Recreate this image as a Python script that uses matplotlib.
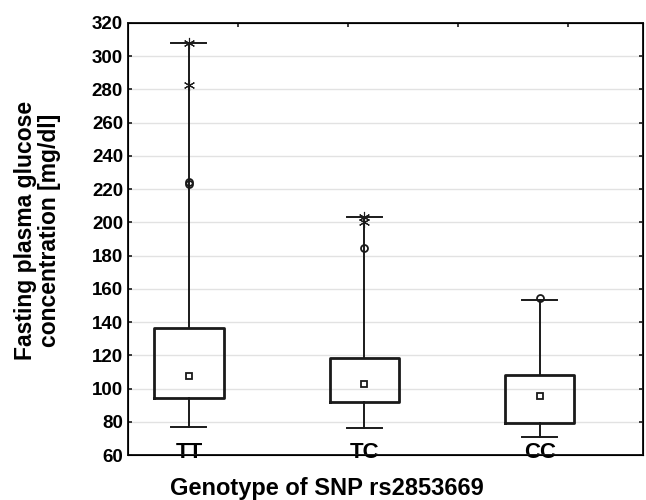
import numpy as np
import matplotlib
matplotlib.use('Agg')
import matplotlib.pyplot as plt

plt.rcParams['font.family'] = ['Liberation Sans', 'DejaVu Sans']
plt.rcParams['font.weight'] = 'bold'

# data (mg/dl)
genotypes = ['TT', 'TC', 'CC']
q1 = [94.5, 92.0, 79.3]
q3 = [136.5, 118.4, 108.4]
median = [107.5, 102.7, 95.5]
whisk_lo = [77.0, 76.0, 71.0]
whisk_hi = [308.0, 203.4, 153.5]
# outliers (circles) and extremes (asterisks)
outlier_grp = [0, 0, 1, 2]
outlier_val = [223.3, 224.2, 184.8, 154.5]
extreme_grp = [0, 0, 1, 1]
extreme_val = [308.0, 282.5, 203.5, 200.5]

fig = plt.figure(figsize=(6.46, 5.0), dpi=100)
ax = fig.add_axes([0.198, 0.09, 0.797, 0.864])

pos = np.arange(1, len(genotypes) + 1)
stats = []
for i, g in enumerate(genotypes):
    stats.append(dict(label=g, med=median[i], mean=median[i], q1=q1[i], q3=q3[i],
                      whislo=whisk_lo[i], whishi=whisk_hi[i], fliers=[]))

ax.bxp(stats, positions=pos, widths=0.395, showmeans=True, showfliers=False,
       boxprops=dict(color='#1a1a1a', linewidth=2.0),
       whiskerprops=dict(color='#1a1a1a', linewidth=1.4),
       capprops=dict(color='#1a1a1a', linewidth=1.4),
       medianprops=dict(linewidth=0),
       meanprops=dict(marker='s', markersize=4.5, markerfacecolor='white',
                      markeredgecolor='#1a1a1a', markeredgewidth=1.3),
       capwidths=0.2)

ax.plot(pos[outlier_grp], outlier_val, 'o', ms=5, mfc='none', mec='#1a1a1a', mew=1.3)
ax.plot(pos[extreme_grp], extreme_val, ls='none', marker=(6, 2, 0), ms=8,
        mec='#1a1a1a', mew=0.8)

ax.set_xlim(0.652, 3.587)
ax.set_ylim(60, 320)
ax.set_yticks(np.arange(60, 321, 20))
ax.set_xticks(pos)
ax.set_xticklabels(genotypes, fontsize=16, fontweight='bold')
ax.tick_params(axis='x', length=0, pad=-9)
ax.tick_params(axis='y', direction='in', length=3, width=1.2, labelsize=13.5,
               right=True, color='#1a1a1a')
ax.yaxis.grid(True, color='#e2e2e2', linewidth=1)
ax.set_axisbelow(True)
for s in ax.spines.values():
    s.set_linewidth(1.4)
    s.set_color('#1a1a1a')

# top ticks
top = ax.twiny()
top.set_xlim(0, 4.68)
top.set_xticks([1, 2, 3, 4])
top.tick_params(axis='x', direction='in', length=3, width=1.2, labeltop=False,
                color='#1a1a1a')

ax.set_ylabel('Fasting plasma glucose\nconcentration [mg/dl]', fontsize=16.5,
              fontweight='bold', linespacing=1.05)
ax.yaxis.set_label_coords(-0.13, 0.52)
ax.set_xlabel('Genotype of SNP rs2853669', fontsize=17, fontweight='bold')
ax.xaxis.set_label_coords(0.386, -0.05)

fig.savefig('out.png', dpi=100)
